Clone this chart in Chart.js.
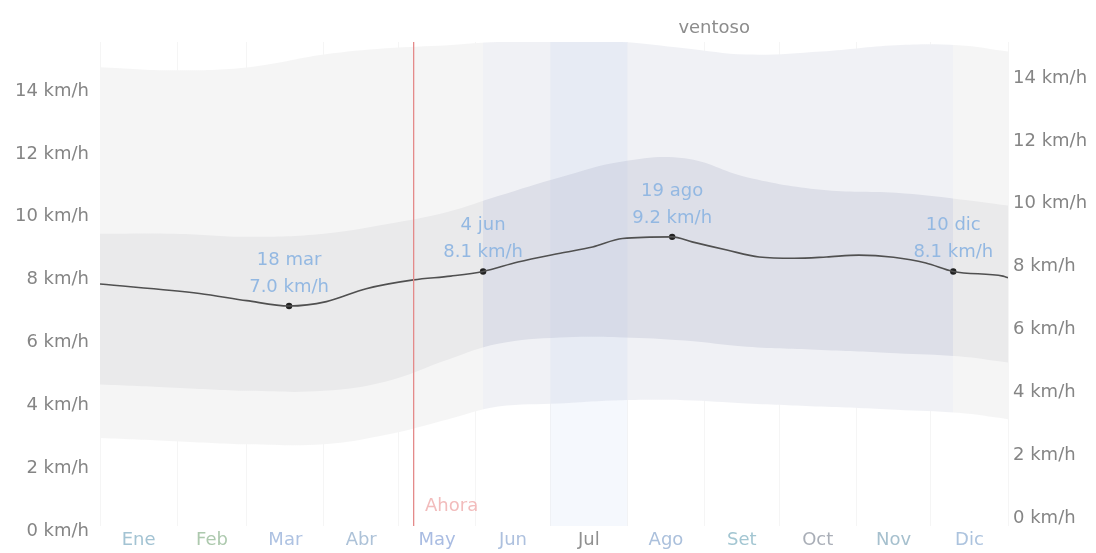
<!DOCTYPE html>
<html lang="es">
  <head>
    <meta charset="UTF-8" />
    <title>Velocidad media del viento</title>
    <style>
      body {
        margin: 0;
        background: #fff;
      }

      .chart {
        width: 1096px;
        height: 553px;
      }
    </style>
  </head>
  <body>
    <div class="chart"><canvas id="windChart"></canvas></div>

    <script src="https://cdn.jsdelivr.net/npm/chart.js@4/dist/chart.umd.min.js"></script>
    <script>
      // months (day of year, 0 = 1 ene)
      const monthNames = ['Ene', 'Feb', 'Mar', 'Abr', 'May', 'Jun', 'Jul', 'Ago', 'Set', 'Oct', 'Nov', 'Dic'];
      const monthStartDays = [0, 31, 59, 90, 120, 151, 181, 212, 243, 273, 304, 334, 365];
      const speedTicks = [0, 2, 4, 6, 8, 10, 12, 14];

      // average wind speed (km/h)
      const meanDays = [0, 40, 59, 76, 91, 107, 126, 141, 154, 168, 185, 198, 210, 230, 238, 252, 265, 279, 292, 305, 319, 332, 343, 363, 365];
      const meanSpeed = [7.7, 7.4, 7.17, 7.0, 7.14, 7.55, 7.83, 7.95, 8.1, 8.4, 8.68, 8.88, 9.15, 9.2, 9.04, 8.78, 8.56, 8.52, 8.56, 8.62, 8.55, 8.37, 8.1, 7.95, 7.9];

      // percentile bands (km/h)
      const bandDays = [0, 30, 60, 90, 115, 140, 160, 185, 210, 235, 260, 290, 320, 345, 365];
      const p90 = [14.6, 14.5, 14.6, 15.0, 15.2, 15.3, 15.4, 15.4, 15.4, 15.2, 15.0, 15.1, 15.3, 15.3, 15.1];
      const p75 = [9.3, 9.3, 9.2, 9.3, 9.6, 10.0, 10.5, 11.1, 11.6, 11.7, 11.1, 10.7, 10.6, 10.4, 10.2];
      const p25 = [4.5, 4.4, 4.3, 4.3, 4.6, 5.3, 5.8, 6.0, 6.0, 5.9, 5.7, 5.6, 5.5, 5.4, 5.2];
      const p10 = [2.8, 2.7, 2.6, 2.6, 2.9, 3.4, 3.8, 3.9, 4.0, 4.0, 3.9, 3.8, 3.7, 3.6, 3.4];

      // marked days
      const markDays = [76, 154, 230, 343];
      const markSpeed = [7.0, 8.1, 9.2, 8.1];
      const markDates = ['18 mar', '4 jun', '19 ago', '10 dic'];

      // windy season and today
      const seasonStart = 154;
      const seasonEnd = 343;
      const seasonLabel = 'ventoso';
      const todayDay = 126;
      const todayLabel = 'Ahora';

      const monthColors = ['#a3c3d3', '#adc9ae', '#aec2e2', '#adc2d8', '#a9bce2', '#adc0de', '#909090', '#abc0dc', '#a3c6d2', '#a9aeb7', '#a6c0ce', '#acc3de'];

      const toPoints = (days, values) => days.map((d, i) => ({ x: d, y: values[i] }));

      // gray outside the windy season, bluish inside
      function seasonFill(base, windy) {
        return (context) => {
          const chart = context.chart;
          const area = chart.chartArea;
          const x = chart.scales.x;
          if (!area || !x) return base;
          const w = area.right - area.left;
          const a = (x.getPixelForValue(seasonStart) - area.left) / w;
          const b = (x.getPixelForValue(seasonEnd) - area.left) / w;
          const g = chart.ctx.createLinearGradient(area.left, 0, area.right, 0);
          g.addColorStop(0, base);
          g.addColorStop(a, base);
          g.addColorStop(a, windy);
          g.addColorStop(b, windy);
          g.addColorStop(b, base);
          g.addColorStop(1, base);
          return g;
        };
      }

      const overlays = {
        id: 'overlays',
        beforeDatasetsDraw(chart) {
          const { ctx, chartArea: a, scales } = chart;
          // highlighted month (Jul)
          const x0 = scales.x.getPixelForValue(monthStartDays[6]);
          const x1 = scales.x.getPixelForValue(monthStartDays[7]);
          ctx.save();
          ctx.fillStyle = 'rgba(170, 200, 240, 0.12)';
          ctx.fillRect(x0, a.top, x1 - x0, a.bottom - a.top);
          ctx.restore();
        },
        afterDatasetsDraw(chart) {
          const { ctx, chartArea: a, scales } = chart;
          const x = scales.x;
          const y = scales.y;
          ctx.save();

          // today line
          const tx = Math.round(x.getPixelForValue(todayDay));
          ctx.fillStyle = '#e48a8a';
          ctx.fillRect(tx, a.top, 1.3, a.bottom - a.top);

          ctx.font = '18px "DejaVu Sans"';
          ctx.textBaseline = 'middle';
          ctx.fillStyle = '#f2bcbc';
          ctx.textAlign = 'left';
          ctx.fillText(todayLabel, tx + 12, a.bottom - 20);

          // season label
          ctx.textAlign = 'center';
          ctx.fillStyle = '#8c8c8c';
          ctx.fillText(seasonLabel, x.getPixelForValue((seasonStart + seasonEnd) / 2) - 4, a.top - 14);

          // marked values
          ctx.fillStyle = '#93b8e2';
          markDays.forEach((d, i) => {
            const px = x.getPixelForValue(d);
            const py = y.getPixelForValue(markSpeed[i]);
            ctx.fillText(markDates[i], px, py - 46);
            ctx.fillText(markSpeed[i].toFixed(1) + ' km/h', px, py - 19);
          });

          ctx.restore();
        },
      };

      const tickFont = { family: 'DejaVu Sans', size: 18 };

      new Chart(document.getElementById('windChart'), {
        type: 'line',
        data: {
          datasets: [
            {
              data: toPoints(meanDays, meanSpeed),
              borderColor: '#505050',
              borderWidth: 1.6,
              pointRadius: 0,
              cubicInterpolationMode: 'monotone',
              fill: false,
              xAxisID: 'x',
              yAxisID: 'y',
            },
            {
              type: 'scatter',
              data: toPoints(markDays, markSpeed),
              pointRadius: 3.2,
              pointBackgroundColor: '#222',
              pointBorderWidth: 0,
              showLine: false,
              xAxisID: 'x',
              yAxisID: 'y',
            },
            {
              data: toPoints(bandDays, p75),
              borderWidth: 0,
              pointRadius: 0,
              tension: 0.4,
              fill: '+1',
              backgroundColor: seasonFill('#eaeaeb', '#dddfe8'),
              xAxisID: 'x',
              yAxisID: 'y',
            },
            {
              data: toPoints(bandDays, p25),
              borderWidth: 0,
              pointRadius: 0,
              tension: 0.4,
              fill: false,
              xAxisID: 'x',
              yAxisID: 'y',
            },
            {
              data: toPoints(bandDays, p90),
              borderWidth: 0,
              pointRadius: 0,
              tension: 0.4,
              fill: '+1',
              backgroundColor: seasonFill('#f5f5f5', '#f0f1f5'),
              xAxisID: 'x',
              yAxisID: 'y',
            },
            {
              data: toPoints(bandDays, p10),
              borderWidth: 0,
              pointRadius: 0,
              tension: 0.4,
              fill: false,
              xAxisID: 'x',
              yAxisID: 'y',
            },
          ],
        },
        options: {
          responsive: true,
          maintainAspectRatio: false,
          animation: false,
          layout: { padding: { top: 42, left: 0, right: 0, bottom: 0 } },
          plugins: {
            legend: { display: false },
            tooltip: { enabled: false },
            filler: { drawTime: 'beforeDatasetsDraw' },
          },
          scales: {
            x: {
              type: 'linear',
              axis: 'x',
              position: 'bottom',
              min: 0,
              max: 365,
              afterBuildTicks: (s) => {
                s.ticks = monthNames.map((m, i) => ({ value: (monthStartDays[i] + monthStartDays[i + 1]) / 2 }));
              },
              afterFit: (s) => {
                s.height = 27;
              },
              grid: { display: false, drawTicks: false },
              border: { display: false },
              ticks: {
                autoSkip: false,
                maxRotation: 0,
                padding: 4,
                font: tickFont,
                color: (c) => monthColors[c.index],
                callback: (v, i) => monthNames[i],
              },
            },
            xg: {
              type: 'linear',
              axis: 'x',
              position: 'top',
              min: 0,
              max: 365,
              afterBuildTicks: (s) => {
                s.ticks = monthStartDays.map((d) => ({ value: d }));
              },
              afterFit: (s) => {
                s.height = 0;
              },
              grid: { color: 'rgba(0, 0, 0, 0.04)', drawTicks: false },
              border: { display: false },
              ticks: { display: false },
            },
            y: {
              axis: 'y',
              position: 'left',
              min: 0,
              max: 15.4,
              afterBuildTicks: (s) => {
                s.ticks = speedTicks.map((v) => ({ value: v }));
              },
              afterFit: (s) => {
                s.width = 100;
              },
              grid: { display: false, drawTicks: false },
              border: { display: false },
              ticks: {
                padding: 11,
                labelOffset: 5,
                font: tickFont,
                color: '#858585',
                callback: (v) => v + ' km/h',
              },
            },
            y2: {
              axis: 'y',
              position: 'right',
              min: 0,
              max: 15.4,
              afterBuildTicks: (s) => {
                s.ticks = speedTicks.map((v) => ({ value: v }));
              },
              afterFit: (s) => {
                s.width = 88;
              },
              grid: { display: false, drawTicks: false },
              border: { display: false },
              ticks: {
                padding: 5,
                labelOffset: -8,
                font: tickFont,
                color: '#858585',
                callback: (v) => v + ' km/h',
              },
            },
          },
        },
        plugins: [overlays],
      });
    </script>
  </body>
</html>
